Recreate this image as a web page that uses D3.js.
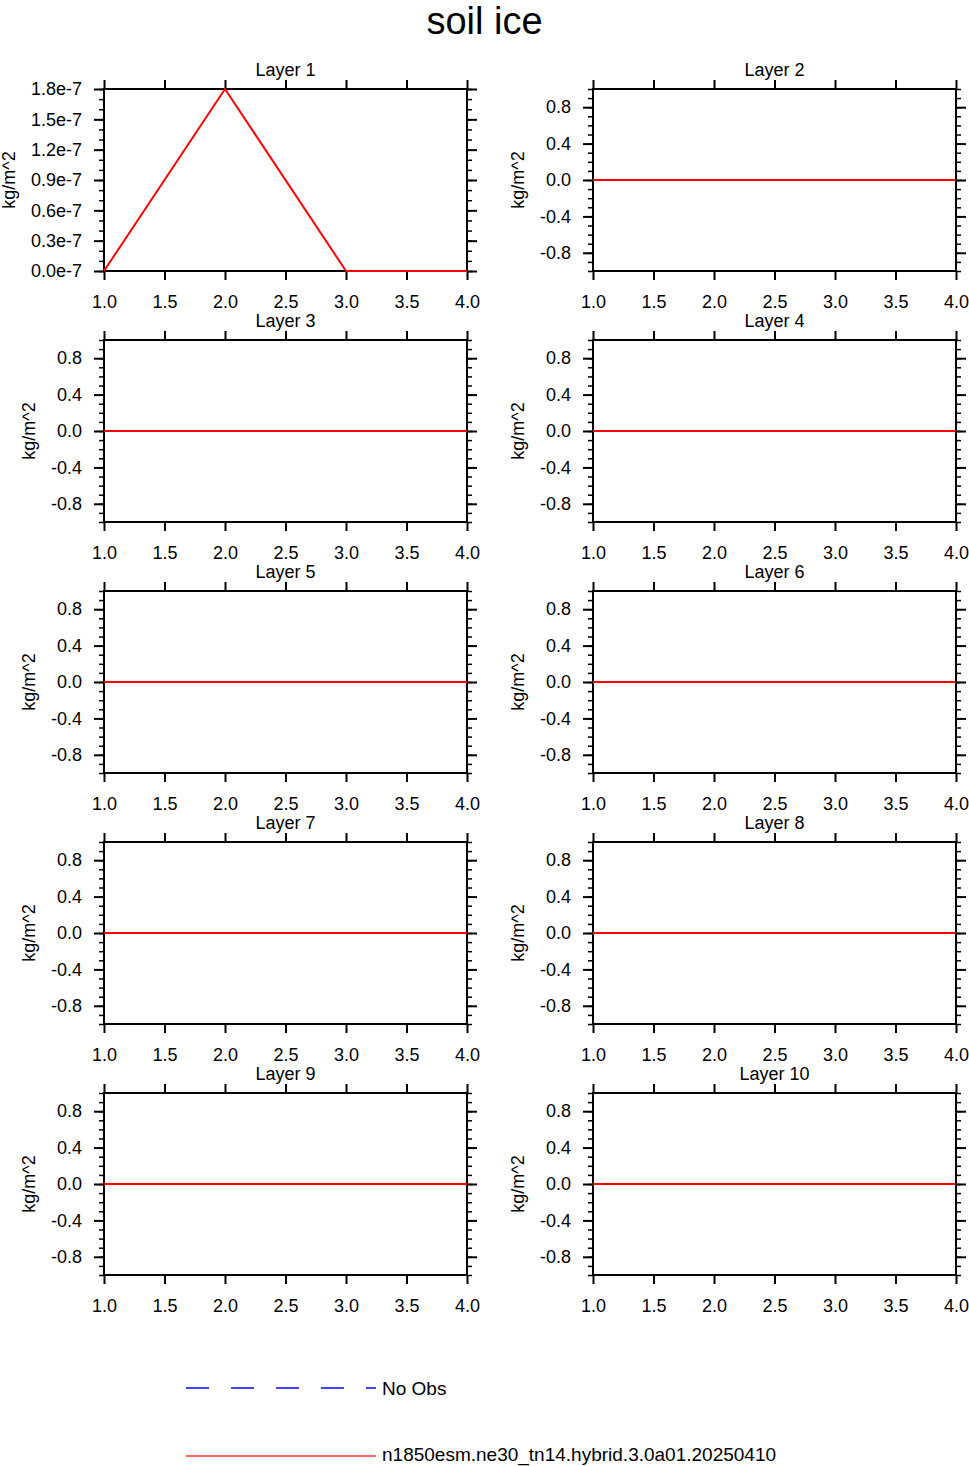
<!DOCTYPE html>
<html>
<head>
<meta charset="utf-8">
<script src="https://cdn.jsdelivr.net/npm/d3@7"></script>
<style>
	body { margin: 0; background: #fff; }
	svg { font-family: "Liberation Sans", Arial, Helvetica, sans-serif; }
</style>
</head>
<body>
<svg></svg>
<script>
const size = { w: 969, h: 1466 };
const svg = d3.select("svg").attr("width", size.w).attr("height", size.h);

// data
const xValues = [1, 2, 3, 4];
const xTicks = [1.0, 1.5, 2.0, 2.5, 3.0, 3.5, 4.0];
const layerNames = ["Layer 1", "Layer 2", "Layer 3", "Layer 4", "Layer 5",
	"Layer 6", "Layer 7", "Layer 8", "Layer 9", "Layer 10"];
const layer1 = [0, 1.8e-7, 0, 0];
const layer2 = [0, 0, 0, 0];
const layer3 = [0, 0, 0, 0];
const layer4 = [0, 0, 0, 0];
const layer5 = [0, 0, 0, 0];
const layer6 = [0, 0, 0, 0];
const layer7 = [0, 0, 0, 0];
const layer8 = [0, 0, 0, 0];
const layer9 = [0, 0, 0, 0];
const layer10 = [0, 0, 0, 0];
const series = [layer1, layer2, layer3, layer4, layer5, layer6, layer7, layer8, layer9, layer10];

const layer1Ticks = [0, 0.3e-7, 0.6e-7, 0.9e-7, 1.2e-7, 1.5e-7, 1.8e-7];
const defaultTicks = [-0.8, -0.4, 0.0, 0.4, 0.8];
const yUnits = "kg/m^2";
const title = "soil ice";
const legendLabels = ["No Obs", "n1850esm.ne30_tn14.hybrid.3.0a01.20250410"];
const legendColors = ["#4444ff", "#ff3030"];

// layout
const panel = { w: 363, h: 182 };
const colX = [104, 593];
const rowY = [89, 340, 591, 842, 1093];

svg.append("text")
	.attr("x", size.w / 2)
	.attr("y", 34)
	.attr("text-anchor", "middle")
	.style("font-size", "38px")
	.text(title);

series.forEach(function (vals, i) {
	const col = i % 2, row = Math.floor(i / 2);
	const g = svg.append("g")
		.attr("transform", `translate(${colX[col]},${rowY[row]})`);
	drawPanel(g, vals, i);
});

function drawPanel(g, vals, i) {
	const x = d3.scaleLinear().domain([1, 4]).range([0, panel.w]);
	let y, majors, minors, fmt;
	if (i === 0) {
		y = d3.scaleLinear().domain([0, 1.8e-7]).range([panel.h, 0]);
		majors = layer1Ticks;
		minors = d3.range(0, 19).map((k) => k * 1e-8);
		fmt = (d) => (d * 1e7).toFixed(1) + "e-7";
	} else {
		y = d3.scaleLinear().domain([-1, 1]).range([panel.h, 0]);
		majors = defaultTicks;
		minors = d3.range(-10, 11).map((k) => k / 10);
		fmt = (d) => d.toFixed(1);
	}

	// minor y ticks, both sides
	g.append("g").call(d3.axisLeft(y).tickValues(minors).tickSize(5).tickFormat(""))
		.call(styleAxis, 1.5);
	g.append("g").attr("transform", `translate(${panel.w},0)`)
		.call(d3.axisRight(y).tickValues(minors).tickSize(5).tickFormat(""))
		.call(styleAxis, 1.5);

	// major y ticks
	g.append("g")
		.call(d3.axisLeft(y).tickValues(majors).tickSize(10).tickPadding(12).tickFormat(fmt))
		.call(styleAxis, 2);
	g.append("g").attr("transform", `translate(${panel.w},0)`)
		.call(d3.axisRight(y).tickValues(majors).tickSize(10).tickFormat(""))
		.call(styleAxis, 2);

	// x ticks top and bottom
	g.append("g").attr("transform", `translate(0,${panel.h})`)
		.call(d3.axisBottom(x).tickValues(xTicks).tickSize(9).tickPadding(15).tickFormat(d3.format(".1f")))
		.call(styleAxis, 2);
	g.append("g")
		.call(d3.axisTop(x).tickValues(xTicks).tickSize(9).tickFormat(""))
		.call(styleAxis, 2);

	// frame
	g.append("rect")
		.attr("width", panel.w).attr("height", panel.h)
		.attr("fill", "none").attr("stroke", "#000").attr("stroke-width", 2);

	// data line
	const line = d3.line().x((d, k) => x(xValues[k])).y((d) => y(d));
	g.append("path")
		.datum(vals)
		.attr("d", line)
		.attr("fill", "none")
		.attr("stroke", "#ff0000")
		.attr("stroke-width", 2);

	// panel title
	g.append("text")
		.attr("x", panel.w / 2)
		.attr("y", -13)
		.attr("text-anchor", "middle")
		.style("font-size", "18px")
		.text(layerNames[i]);

	// y units
	const ux = i === 0 ? -95 : -75;
	g.append("text")
		.attr("transform", `translate(${ux},${panel.h / 2}) rotate(-90)`)
		.attr("text-anchor", "middle")
		.attr("dy", "0.35em")
		.style("font-size", "18px")
		.text(yUnits);
}

function styleAxis(sel, w) {
	sel.select(".domain").remove();
	sel.selectAll("line").attr("stroke", "#000").attr("stroke-width", w);
	sel.selectAll("text").attr("fill", "#000").style("font-size", "18px");
	sel.attr("font-family", null).attr("font-size", null);
}

// legend
const legend = svg.append("g").attr("transform", "translate(186,0)");
const legendY = [1388, 1456];
const legendBase = [1395, 1461];
legendLabels.forEach(function (lab, k) {
	legend.append("line")
		.attr("x1", 0).attr("x2", 190)
		.attr("y1", legendY[k]).attr("y2", legendY[k])
		.attr("stroke", legendColors[k])
		.attr("stroke-width", k === 0 ? 2 : 1.5)
		.attr("stroke-dasharray", k === 0 ? "23,22" : null);
	legend.append("text")
		.attr("x", 196)
		.attr("y", legendBase[k])
		.style("font-size", "19px")
		.text(lab);
});
</script>
</body>
</html>
